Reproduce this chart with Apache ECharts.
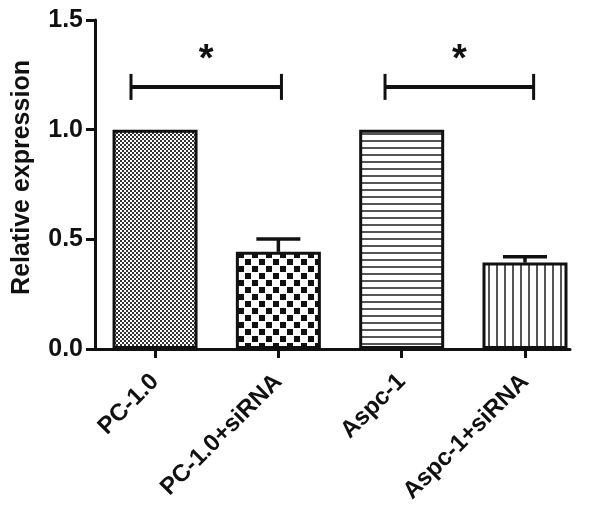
<!DOCTYPE html>
<html>
<head>
<meta charset="utf-8">
<script src="https://cdn.jsdelivr.net/npm/echarts@6/dist/echarts.min.js"></script>
<style>
  html, body { margin: 0; padding: 0; background: #fff; }
  #main { width: 600px; height: 514px; }
</style>
</head>
<body>
<div id="main"></div>
<script>
// data
var categories = ['PC-1.0', 'PC-1.0+siRNA', 'Aspc-1', 'Aspc-1+siRNA'];
var values = [1.0, 0.443, 1.0, 0.394];
var errUpper = [null, 0.502, null, 0.421];
var yTicks = [0, 0.5, 1.0, 1.5];
// significance brackets: [from category, to category, height]
var sigFrom = [-0.195, 1.865];
var sigTo = [1.025, 3.07];
var sigY = [1.195, 1.195];
var sigText = ['*', '*'];

// pattern fills
function makePattern(w, h, draw) {
	var c = document.createElement('canvas');
	c.width = w; c.height = h;
	var ctx = c.getContext('2d');
	ctx.fillStyle = '#fff';
	ctx.fillRect(0, 0, w, h);
	draw(ctx);
	return { image: c, repeat: 'repeat' };
}
var patterns = [
	makePattern(4, 4, function (ctx) {
		ctx.fillStyle = '#333';
		ctx.fillRect(0, 0, 2, 2);
		ctx.fillRect(2, 2, 2, 2);
	}),
	makePattern(14, 14, function (ctx) {
		ctx.fillStyle = '#111';
		ctx.fillRect(0, 0, 6, 6);
		ctx.fillRect(7, 7, 6, 6);
	}),
	makePattern(4, 7, function (ctx) {
		ctx.fillStyle = '#555';
		ctx.fillRect(0, 0, 4, 2);
	}),
	makePattern(8, 4, function (ctx) {
		ctx.fillStyle = '#555';
		ctx.fillRect(0, 0, 2, 4);
	})
];

var barData = values.map(function (v, i) {
	return {
		value: [i, v],
		itemStyle: { color: patterns[i], borderColor: '#111', borderWidth: 3 }
	};
});
var errData = [];
values.forEach(function (v, i) {
	if (errUpper[i] != null) errData.push([i, v, errUpper[i]]);
});
var sigData = sigFrom.map(function (f, i) { return [f, sigTo[i], sigY[i], sigText[i]]; });

var font = 'Liberation Sans, Arial, sans-serif';
var chart = echarts.init(document.getElementById('main'));
var option = {
	backgroundColor: '#fff',
	animation: false,
	grid: { left: 95, right: 30, top: 20, bottom: 165 },
	xAxis: {
		type: 'value',
		min: -0.487,
		max: 3.365,
		splitLine: { show: false },
		axisLine: { show: true, onZero: false, lineStyle: { color: '#111', width: 3 } },
		axisTick: { show: true, customValues: [0, 1, 2, 3], length: 9, lineStyle: { color: '#111', width: 3 } },
		axisLabel: {
			customValues: [0, 1, 2, 3],
			rotate: 45,
			margin: 29,
			fontSize: 24,
			fontWeight: 'bold',
			fontFamily: font,
			color: '#111',
			formatter: function (v) { return categories[Math.round(v)]; }
		}
	},
	yAxis: {
		type: 'value',
		min: yTicks[0],
		max: yTicks[yTicks.length - 1],
		interval: 0.5,
		name: 'Relative expression',
		nameLocation: 'middle',
		nameGap: 60,
		nameRotate: 90,
		nameTextStyle: { fontSize: 25, fontWeight: 'bold', fontFamily: font, color: '#111', padding: [0, 0, 0, 14] },
		splitLine: { show: false },
		axisLine: { show: true, onZero: false, lineStyle: { color: '#111', width: 3 } },
		axisTick: { show: true, length: 9, lineStyle: { color: '#111', width: 3 } },
		axisLabel: {
			margin: 12,
			fontSize: 25,
			fontWeight: 'bold',
			fontFamily: font,
			color: '#111',
			formatter: function (v) { return v.toFixed(1); }
		}
	},
	series: [
		{
			type: 'bar',
			barWidth: 85,
			data: barData
		},
		{
			type: 'custom',
			data: errData,
			z: 3,
			renderItem: function (params, api) {
				var x = api.value(0);
				var p0 = api.coord([x, api.value(1)]);
				var p1 = api.coord([x, api.value(2)]);
				var st = { stroke: '#111', lineWidth: 3.5 };
				return {
					type: 'group',
					children: [
						{ type: 'line', shape: { x1: p0[0], y1: p0[1], x2: p1[0], y2: p1[1] }, style: st },
						{ type: 'line', shape: { x1: p1[0] - 22, y1: p1[1], x2: p1[0] + 22, y2: p1[1] }, style: st }
					]
				};
			}
		},
		{
			type: 'custom',
			data: sigData,
			z: 3,
			renderItem: function (params, api) {
				var a = api.coord([api.value(0), api.value(2)]);
				var b = api.coord([api.value(1), api.value(2)]);
				var st = { stroke: '#111', lineWidth: 4 };
				return {
					type: 'group',
					children: [
						{ type: 'line', shape: { x1: a[0], y1: a[1], x2: b[0], y2: b[1] }, style: st },
						{ type: 'line', shape: { x1: a[0], y1: a[1] - 13, x2: a[0], y2: a[1] + 13 }, style: { stroke: '#111', lineWidth: 3 } },
						{ type: 'line', shape: { x1: b[0], y1: b[1] - 13, x2: b[0], y2: b[1] + 13 }, style: { stroke: '#111', lineWidth: 3 } },
						{
							type: 'text',
							x: (a[0] + b[0]) / 2,
							y: a[1] - 26,
							style: {
								text: sigData[params.dataIndex][3],
								fontSize: 38,
								fontWeight: 'bold',
								fontFamily: font,
								fill: '#111',
								align: 'center',
								verticalAlign: 'middle'
							}
						}
					]
				};
			}
		}
	]
};
chart.setOption(option);
</script>
</body>
</html>
